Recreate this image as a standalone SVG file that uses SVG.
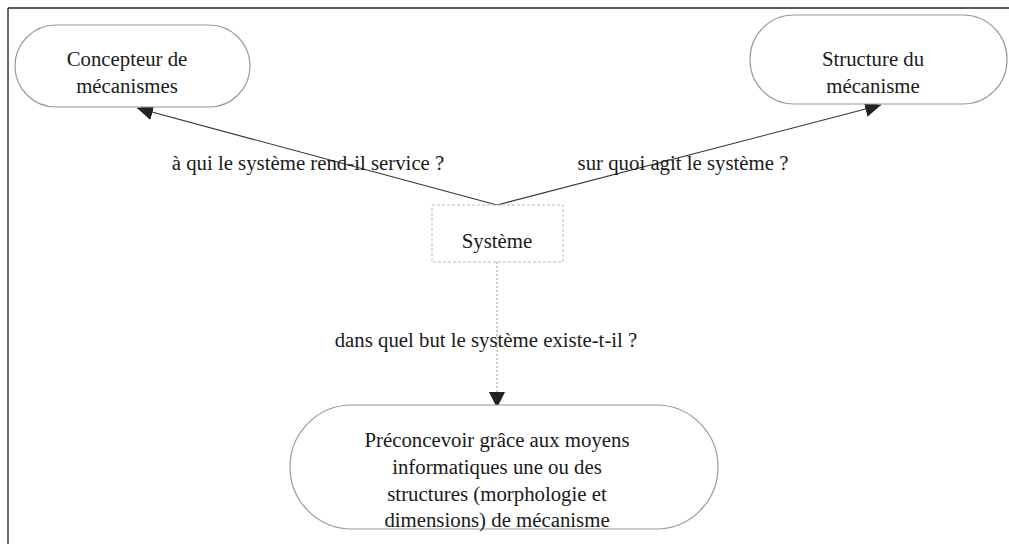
<svg xmlns="http://www.w3.org/2000/svg" width="1009" height="544" viewBox="0 0 1009 544">
<defs>
<style>
text{font-family:"Liberation Serif","Times New Roman",serif;font-size:20.8px;fill:#1a1a1a;text-anchor:middle}
.stad{fill:#fff;stroke:#9a9a9a;stroke-width:1.2}
.conn{stroke:#333;stroke-width:1.1;fill:none}
</style>
<marker id="arr" viewBox="0 0 10 10" refX="10" refY="5" markerWidth="16" markerHeight="16" markerUnits="userSpaceOnUse" orient="auto">
<path d="M0,0 L10,5 L0,10 z" fill="#222"/>
</marker>
</defs>
<rect width="1009" height="544" fill="#fff"/>
<g id="frame">
<line x1="8" y1="8" x2="1009" y2="8" stroke="#222" stroke-width="1.5"/>
<line x1="8" y1="8" x2="8" y2="544" stroke="#333" stroke-width="1.5"/>
</g>
<g id="connectors">
<line class="conn" x1="497" y1="205" x2="137" y2="108" marker-end="url(#arr)"/>
<line class="conn" x1="497" y1="205" x2="881" y2="105" marker-end="url(#arr)"/>
<line x1="497" y1="262" x2="497" y2="408" stroke="#aaa" stroke-width="1.2" stroke-dasharray="2,2" marker-end="url(#arr)"/>
</g>
<g id="node-concepteur">
<rect class="stad" x="15" y="25" width="235" height="82" rx="41"/>
<text x="127" y="66">Concepteur de</text>
<text x="127" y="93">mécanismes</text>
</g>
<g id="node-structure">
<rect class="stad" x="750" y="15" width="257" height="89" rx="44"/>
<text x="873" y="66">Structure du</text>
<text x="873" y="93">mécanisme</text>
</g>
<g id="node-systeme">
<rect x="432" y="205" width="131" height="57" fill="#fff" stroke="#bbb" stroke-width="1" stroke-dasharray="3,2"/>
<text x="497" y="248">Système</text>
</g>
<g id="node-but">
<rect class="stad" x="290" y="405" width="428" height="124" rx="62"/>
<text x="497" y="447">Préconcevoir grâce aux moyens</text>
<text x="497" y="474">informatiques une ou des</text>
<text x="497" y="501">structures (morphologie et</text>
<text x="497" y="527">dimensions) de mécanisme</text>
</g>
<g id="labels">
<text x="308" y="170">à qui le système rend-il service ?</text>
<text x="683" y="170">sur quoi agit le système ?</text>
<text x="486" y="347">dans quel but le système existe-t-il ?</text>
</g>
</svg>
